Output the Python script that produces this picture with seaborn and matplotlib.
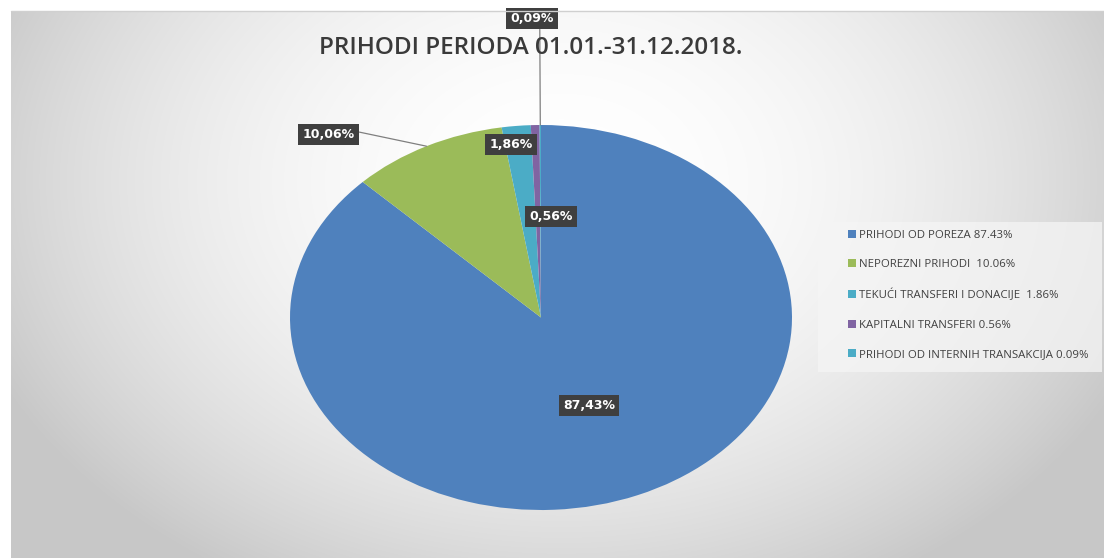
import numpy as np
import matplotlib
matplotlib.use("Agg")
import matplotlib.pyplot as plt
from matplotlib.patches import Rectangle
from matplotlib.lines import Line2D
import seaborn as sns

# ---- data ----
categories = ["PRIHODI OD POREZA", "NEPOREZNI PRIHODI", "TEKUĆI TRANSFERI I DONACIJE",
              "KAPITALNI TRANSFERI", "PRIHODI OD INTERNIH TRANSAKCIJA"]
values = [87.43, 10.06, 1.86, 0.56, 0.09]
legend_labels = ["PRIHODI OD POREZA 87.43%", "NEPOREZNI PRIHODI  10.06%",
                 "TEKUĆI TRANSFERI I DONACIJE  1.86%", "KAPITALNI TRANSFERI 0.56%",
                 "PRIHODI OD INTERNIH TRANSAKCIJA 0.09%"]
title = "PRIHODI PERIODA 01.01.-31.12.2018."

# ---- style ----
sns.set_theme(style="white")
plt.rcParams['font.family'] = ['Open Sans', 'DejaVu Sans']
colors = sns.color_palette(["#4F81BD", "#9BBB59", "#4BACC6", "#8064A2", "#4BACC6"])

W, H = 1104, 558
fig = plt.figure(figsize=(W / 100, H / 100), dpi=100)
fig.patch.set_facecolor("white")

# background gradient panel
bg = fig.add_axes([11 / W, 0, (W - 11) / W, (H - 11) / H])
bw, bh = W - 11, H - 11
yy, xx = np.mgrid[0:bh, 0:bw]
cx, cy = 550, 170
r2 = ((xx - cx) / 620.0) ** 2 + ((yy - cy) / 460.0) ** 2
g = np.clip(255 - 55 * r2, 199, 255) / 255.0
img = np.dstack([g, g, g])
bg.imshow(img, aspect="auto", interpolation="bilinear")
bg.axis("off")
fig.add_artist(Line2D([11 / W, 1], [1 - 11 / H, 1 - 11 / H], transform=fig.transFigure,
                      color="#d0d0d0", lw=1))

# pie (elliptical)
ax = fig.add_axes([290 / W, 48 / H, 502 / W, 385 / H])
ax.patch.set_alpha(0)
wedges, _ = ax.pie(values, colors=colors, startangle=90, counterclock=False,
                   wedgeprops=dict(linewidth=0))
ax.set_aspect("auto")
ax.set_xlim(-1, 1)
ax.set_ylim(-1, 1)
ax.axis("off")

# data label placement (layout)
label_pos = [(0.191, -0.457), (-0.845, 0.951), (-0.12, 0.899), (0.04, 0.525), (-0.036, 1.553)]
leader = [False, True, False, False, True]
relpos = [(0.5, 0.5), (1.0, 0.75), (0.5, 0.5), (0.5, 0.5), (0.68, 0.0)]
box = dict(boxstyle="square,pad=0.35", facecolor="#3f3f3f", edgecolor="none")
for w, v, pos, ld, rp in zip(wedges, values, label_pos, leader, relpos):
    txt = f"{v:.2f}".replace(".", ",") + "%"
    mid = np.deg2rad((w.theta1 + w.theta2) / 2)
    edge = (np.cos(mid), np.sin(mid))
    kw = dict(ha="center", va="center", color="white", fontsize=9, fontweight="bold",
              family="DejaVu Sans", bbox=box, annotation_clip=False)
    if ld:
        ax.annotate(txt, xy=edge, xytext=pos,
                    arrowprops=dict(arrowstyle="-", color="#7f7f7f", lw=0.9,
                                    relpos=rp, shrinkA=0, shrinkB=0), **kw)
    else:
        ax.annotate(txt, xy=pos, xytext=pos, **kw)

# title
fig.text(531 / W, 1 - 48 / H, title, ha="center", va="center", fontsize=17.5,
         fontweight="semibold", color="#3a3a3a", family="Open Sans")

# legend
fig.add_artist(Rectangle((818 / W, 1 - 372 / H), 284 / W, 150 / H, transform=fig.transFigure,
                         facecolor="#f5f5f5", edgecolor="none", alpha=0.75))
leg = fig.legend(handles=wedges, labels=legend_labels, loc="upper left",
                 bbox_to_anchor=(848 / W, 1 - 230 / H), frameon=False, fontsize=8.2,
                 handlelength=0.7, handleheight=0.7, handletextpad=0.3,
                 labelspacing=1.62, borderpad=0, borderaxespad=0)
for t in leg.get_texts():
    t.set_color("#404040")

fig.savefig("out.png", dpi=100)
